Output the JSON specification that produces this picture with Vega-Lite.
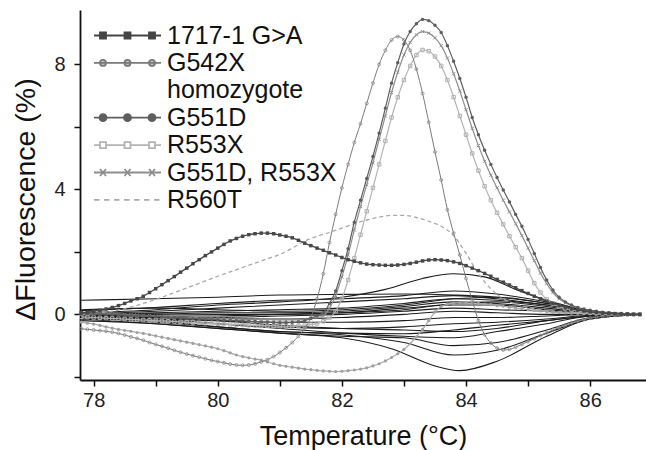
{
  "$schema": "https://vega.github.io/schema/vega-lite/v6.json",
  "width": 566,
  "height": 370,
  "autosize": {"type": "none"},
  "padding": {"left": 80, "top": 10, "right": 0, "bottom": 70},
  "background": "white",
  "config": {
    "view": {"stroke": null},
    "font": "Liberation Sans",
    "axis": {"grid": false, "domainColor": "#111", "domainWidth": 1.8, "tickColor": "#111", "tickWidth": 1.5, "tickSize": 6, "labelFont": "Liberation Sans", "labelFontSize": 20, "labelColor": "#222", "titleFont": "Liberation Sans", "titleFontSize": 27, "titleFontWeight": "normal", "titleColor": "#111"},
    "legend": {"padding": 0, "symbolSize": 100, "symbolStrokeWidth": 1.8, "labelFontSize": 25, "labelFont": "Liberation Sans", "labelColor": "#111", "labelOffset": 27, "rowPadding": 1.4, "labelLimit": 400, "symbolOpacity": 1}
  },
  "datasets": {
    "pk": [
      {"s":"1717-1 G>A","t":77.8,"v":0.05},{"s":"1717-1 G>A","t":77.9,"v":0.07},{"s":"1717-1 G>A","t":78.0,"v":0.1},{"s":"1717-1 G>A","t":78.1,"v":0.13},{"s":"1717-1 G>A","t":78.2,"v":0.17},{"s":"1717-1 G>A","t":78.3,"v":0.22},{"s":"1717-1 G>A","t":78.4,"v":0.28},{"s":"1717-1 G>A","t":78.5,"v":0.35},{"s":"1717-1 G>A","t":78.6,"v":0.43},{"s":"1717-1 G>A","t":78.7,"v":0.5},{"s":"1717-1 G>A","t":78.8,"v":0.58},{"s":"1717-1 G>A","t":78.9,"v":0.7},{"s":"1717-1 G>A","t":79.0,"v":0.82},{"s":"1717-1 G>A","t":79.1,"v":0.95},{"s":"1717-1 G>A","t":79.2,"v":1.08},{"s":"1717-1 G>A","t":79.3,"v":1.21},{"s":"1717-1 G>A","t":79.4,"v":1.35},{"s":"1717-1 G>A","t":79.5,"v":1.48},{"s":"1717-1 G>A","t":79.6,"v":1.62},{"s":"1717-1 G>A","t":79.7,"v":1.75},{"s":"1717-1 G>A","t":79.8,"v":1.88},{"s":"1717-1 G>A","t":79.9,"v":2.0},{"s":"1717-1 G>A","t":80.0,"v":2.12},{"s":"1717-1 G>A","t":80.1,"v":2.24},{"s":"1717-1 G>A","t":80.2,"v":2.35},{"s":"1717-1 G>A","t":80.3,"v":2.43},{"s":"1717-1 G>A","t":80.4,"v":2.5},{"s":"1717-1 G>A","t":80.5,"v":2.55},{"s":"1717-1 G>A","t":80.6,"v":2.58},{"s":"1717-1 G>A","t":80.7,"v":2.6},{"s":"1717-1 G>A","t":80.8,"v":2.6},{"s":"1717-1 G>A","t":80.9,"v":2.58},{"s":"1717-1 G>A","t":81.0,"v":2.54},{"s":"1717-1 G>A","t":81.1,"v":2.5},{"s":"1717-1 G>A","t":81.2,"v":2.45},{"s":"1717-1 G>A","t":81.3,"v":2.37},{"s":"1717-1 G>A","t":81.4,"v":2.28},{"s":"1717-1 G>A","t":81.5,"v":2.2},{"s":"1717-1 G>A","t":81.6,"v":2.12},{"s":"1717-1 G>A","t":81.7,"v":2.05},{"s":"1717-1 G>A","t":81.8,"v":1.97},{"s":"1717-1 G>A","t":81.9,"v":1.9},{"s":"1717-1 G>A","t":82.0,"v":1.82},{"s":"1717-1 G>A","t":82.1,"v":1.75},{"s":"1717-1 G>A","t":82.2,"v":1.7},{"s":"1717-1 G>A","t":82.3,"v":1.65},{"s":"1717-1 G>A","t":82.4,"v":1.61},{"s":"1717-1 G>A","t":82.5,"v":1.59},{"s":"1717-1 G>A","t":82.6,"v":1.58},{"s":"1717-1 G>A","t":82.7,"v":1.57},{"s":"1717-1 G>A","t":82.8,"v":1.57},{"s":"1717-1 G>A","t":82.9,"v":1.58},{"s":"1717-1 G>A","t":83.0,"v":1.6},{"s":"1717-1 G>A","t":83.1,"v":1.63},{"s":"1717-1 G>A","t":83.2,"v":1.67},{"s":"1717-1 G>A","t":83.3,"v":1.71},{"s":"1717-1 G>A","t":83.4,"v":1.74},{"s":"1717-1 G>A","t":83.5,"v":1.75},{"s":"1717-1 G>A","t":83.6,"v":1.74},{"s":"1717-1 G>A","t":83.7,"v":1.72},{"s":"1717-1 G>A","t":83.8,"v":1.68},{"s":"1717-1 G>A","t":83.9,"v":1.63},{"s":"1717-1 G>A","t":84.0,"v":1.56},{"s":"1717-1 G>A","t":84.1,"v":1.48},{"s":"1717-1 G>A","t":84.2,"v":1.4},{"s":"1717-1 G>A","t":84.3,"v":1.31},{"s":"1717-1 G>A","t":84.4,"v":1.22},{"s":"1717-1 G>A","t":84.5,"v":1.12},{"s":"1717-1 G>A","t":84.6,"v":1.03},{"s":"1717-1 G>A","t":84.7,"v":0.94},{"s":"1717-1 G>A","t":84.8,"v":0.85},{"s":"1717-1 G>A","t":84.9,"v":0.76},{"s":"1717-1 G>A","t":85.0,"v":0.67},{"s":"1717-1 G>A","t":85.1,"v":0.58},{"s":"1717-1 G>A","t":85.2,"v":0.5},{"s":"1717-1 G>A","t":85.3,"v":0.42},{"s":"1717-1 G>A","t":85.4,"v":0.35},{"s":"1717-1 G>A","t":85.5,"v":0.29},{"s":"1717-1 G>A","t":85.6,"v":0.23},{"s":"1717-1 G>A","t":85.7,"v":0.18},{"s":"1717-1 G>A","t":85.8,"v":0.14},{"s":"1717-1 G>A","t":85.9,"v":0.11},{"s":"1717-1 G>A","t":86.0,"v":0.08},{"s":"1717-1 G>A","t":86.1,"v":0.06},{"s":"1717-1 G>A","t":86.2,"v":0.04},{"s":"1717-1 G>A","t":86.3,"v":0.03},{"s":"1717-1 G>A","t":86.4,"v":0.02},{"s":"1717-1 G>A","t":86.5,"v":0.01},{"s":"1717-1 G>A","t":86.6,"v":0.01},{"s":"1717-1 G>A","t":86.7,"v":0.0},{"s":"1717-1 G>A","t":86.8,"v":0.0},

      {"s":"G542X","t":77.8,"v":-0.46},{"s":"G542X","t":77.9,"v":-0.48},{"s":"G542X","t":78.0,"v":-0.5},{"s":"G542X","t":78.1,"v":-0.52},{"s":"G542X","t":78.2,"v":-0.54},{"s":"G542X","t":78.3,"v":-0.57},{"s":"G542X","t":78.4,"v":-0.61},{"s":"G542X","t":78.5,"v":-0.66},{"s":"G542X","t":78.6,"v":-0.72},{"s":"G542X","t":78.7,"v":-0.77},{"s":"G542X","t":78.8,"v":-0.83},{"s":"G542X","t":78.9,"v":-0.9},{"s":"G542X","t":79.0,"v":-0.96},{"s":"G542X","t":79.1,"v":-1.02},{"s":"G542X","t":79.2,"v":-1.08},{"s":"G542X","t":79.3,"v":-1.15},{"s":"G542X","t":79.4,"v":-1.21},{"s":"G542X","t":79.5,"v":-1.27},{"s":"G542X","t":79.6,"v":-1.32},{"s":"G542X","t":79.7,"v":-1.37},{"s":"G542X","t":79.8,"v":-1.42},{"s":"G542X","t":79.9,"v":-1.47},{"s":"G542X","t":80.0,"v":-1.51},{"s":"G542X","t":80.1,"v":-1.55},{"s":"G542X","t":80.2,"v":-1.59},{"s":"G542X","t":80.3,"v":-1.62},{"s":"G542X","t":80.4,"v":-1.63},{"s":"G542X","t":80.5,"v":-1.62},{"s":"G542X","t":80.6,"v":-1.58},{"s":"G542X","t":80.7,"v":-1.52},{"s":"G542X","t":80.8,"v":-1.45},{"s":"G542X","t":80.9,"v":-1.35},{"s":"G542X","t":81.0,"v":-1.22},{"s":"G542X","t":81.1,"v":-1.07},{"s":"G542X","t":81.2,"v":-0.9},{"s":"G542X","t":81.3,"v":-0.7},{"s":"G542X","t":81.4,"v":-0.45},{"s":"G542X","t":81.5,"v":-0.1},{"s":"G542X","t":81.6,"v":0.5},{"s":"G542X","t":81.7,"v":1.3},{"s":"G542X","t":81.8,"v":2.3},{"s":"G542X","t":81.9,"v":3.2},{"s":"G542X","t":82.0,"v":4.05},{"s":"G542X","t":82.1,"v":4.8},{"s":"G542X","t":82.2,"v":5.5},{"s":"G542X","t":82.3,"v":6.1},{"s":"G542X","t":82.4,"v":6.75},{"s":"G542X","t":82.5,"v":7.4},{"s":"G542X","t":82.6,"v":8.0},{"s":"G542X","t":82.7,"v":8.45},{"s":"G542X","t":82.8,"v":8.78},{"s":"G542X","t":82.9,"v":8.89},{"s":"G542X","t":83.0,"v":8.78},{"s":"G542X","t":83.1,"v":8.45},{"s":"G542X","t":83.2,"v":7.85},{"s":"G542X","t":83.3,"v":7.07},{"s":"G542X","t":83.4,"v":6.15},{"s":"G542X","t":83.5,"v":5.2},{"s":"G542X","t":83.6,"v":4.3},{"s":"G542X","t":83.7,"v":3.35},{"s":"G542X","t":83.8,"v":2.6},{"s":"G542X","t":83.9,"v":1.9},{"s":"G542X","t":84.0,"v":1.15},{"s":"G542X","t":84.1,"v":0.45},{"s":"G542X","t":84.2,"v":-0.2},{"s":"G542X","t":84.3,"v":-0.65},{"s":"G542X","t":84.4,"v":-0.92},{"s":"G542X","t":84.5,"v":-1.08},{"s":"G542X","t":84.6,"v":-1.14},{"s":"G542X","t":84.7,"v":-1.12},{"s":"G542X","t":84.8,"v":-1.05},{"s":"G542X","t":84.9,"v":-0.96},{"s":"G542X","t":85.0,"v":-0.87},{"s":"G542X","t":85.1,"v":-0.78},{"s":"G542X","t":85.2,"v":-0.68},{"s":"G542X","t":85.3,"v":-0.59},{"s":"G542X","t":85.4,"v":-0.5},{"s":"G542X","t":85.5,"v":-0.42},{"s":"G542X","t":85.6,"v":-0.34},{"s":"G542X","t":85.7,"v":-0.27},{"s":"G542X","t":85.8,"v":-0.21},{"s":"G542X","t":85.9,"v":-0.16},{"s":"G542X","t":86.0,"v":-0.12},{"s":"G542X","t":86.1,"v":-0.09},{"s":"G542X","t":86.2,"v":-0.06},{"s":"G542X","t":86.3,"v":-0.04},{"s":"G542X","t":86.4,"v":-0.03},{"s":"G542X","t":86.5,"v":-0.02},{"s":"G542X","t":86.6,"v":-0.01},{"s":"G542X","t":86.7,"v":0.0},{"s":"G542X","t":86.8,"v":0.0},

      {"s":"G551D","t":77.8,"v":0.02},{"s":"G551D","t":77.9,"v":0.02},{"s":"G551D","t":78.0,"v":0.01},{"s":"G551D","t":78.1,"v":0.01},{"s":"G551D","t":78.2,"v":0.0},{"s":"G551D","t":78.3,"v":0.0},{"s":"G551D","t":78.4,"v":-0.01},{"s":"G551D","t":78.5,"v":-0.02},{"s":"G551D","t":78.6,"v":-0.03},{"s":"G551D","t":78.7,"v":-0.04},{"s":"G551D","t":78.8,"v":-0.05},{"s":"G551D","t":78.9,"v":-0.06},{"s":"G551D","t":79.0,"v":-0.07},{"s":"G551D","t":79.1,"v":-0.08},{"s":"G551D","t":79.2,"v":-0.09},{"s":"G551D","t":79.3,"v":-0.1},{"s":"G551D","t":79.4,"v":-0.11},{"s":"G551D","t":79.5,"v":-0.12},{"s":"G551D","t":79.6,"v":-0.13},{"s":"G551D","t":79.7,"v":-0.14},{"s":"G551D","t":79.8,"v":-0.15},{"s":"G551D","t":79.9,"v":-0.16},{"s":"G551D","t":80.0,"v":-0.17},{"s":"G551D","t":80.1,"v":-0.18},{"s":"G551D","t":80.2,"v":-0.19},{"s":"G551D","t":80.3,"v":-0.2},{"s":"G551D","t":80.4,"v":-0.21},{"s":"G551D","t":80.5,"v":-0.22},{"s":"G551D","t":80.6,"v":-0.23},{"s":"G551D","t":80.7,"v":-0.24},{"s":"G551D","t":80.8,"v":-0.25},{"s":"G551D","t":80.9,"v":-0.26},{"s":"G551D","t":81.0,"v":-0.27},{"s":"G551D","t":81.1,"v":-0.27},{"s":"G551D","t":81.2,"v":-0.26},{"s":"G551D","t":81.3,"v":-0.24},{"s":"G551D","t":81.4,"v":-0.2},{"s":"G551D","t":81.5,"v":-0.13},{"s":"G551D","t":81.6,"v":-0.04},{"s":"G551D","t":81.7,"v":0.05},{"s":"G551D","t":81.8,"v":0.35},{"s":"G551D","t":81.9,"v":0.75},{"s":"G551D","t":82.0,"v":1.4},{"s":"G551D","t":82.1,"v":2.1},{"s":"G551D","t":82.2,"v":2.95},{"s":"G551D","t":82.3,"v":3.65},{"s":"G551D","t":82.4,"v":4.35},{"s":"G551D","t":82.5,"v":5.05},{"s":"G551D","t":82.6,"v":5.8},{"s":"G551D","t":82.7,"v":6.6},{"s":"G551D","t":82.8,"v":7.4},{"s":"G551D","t":82.9,"v":8.05},{"s":"G551D","t":83.0,"v":8.65},{"s":"G551D","t":83.1,"v":9.05},{"s":"G551D","t":83.2,"v":9.3},{"s":"G551D","t":83.3,"v":9.44},{"s":"G551D","t":83.4,"v":9.4},{"s":"G551D","t":83.5,"v":9.25},{"s":"G551D","t":83.6,"v":9.02},{"s":"G551D","t":83.7,"v":8.6},{"s":"G551D","t":83.8,"v":8.1},{"s":"G551D","t":83.9,"v":7.55},{"s":"G551D","t":84.0,"v":6.95},{"s":"G551D","t":84.1,"v":6.3},{"s":"G551D","t":84.2,"v":5.75},{"s":"G551D","t":84.3,"v":5.25},{"s":"G551D","t":84.4,"v":4.8},{"s":"G551D","t":84.5,"v":4.38},{"s":"G551D","t":84.6,"v":3.98},{"s":"G551D","t":84.7,"v":3.6},{"s":"G551D","t":84.8,"v":3.2},{"s":"G551D","t":84.9,"v":2.82},{"s":"G551D","t":85.0,"v":2.4},{"s":"G551D","t":85.1,"v":1.95},{"s":"G551D","t":85.2,"v":1.5},{"s":"G551D","t":85.3,"v":1.1},{"s":"G551D","t":85.4,"v":0.78},{"s":"G551D","t":85.5,"v":0.55},{"s":"G551D","t":85.6,"v":0.4},{"s":"G551D","t":85.7,"v":0.3},{"s":"G551D","t":85.8,"v":0.22},{"s":"G551D","t":85.9,"v":0.17},{"s":"G551D","t":86.0,"v":0.13},{"s":"G551D","t":86.1,"v":0.1},{"s":"G551D","t":86.2,"v":0.07},{"s":"G551D","t":86.3,"v":0.05},{"s":"G551D","t":86.4,"v":0.03},{"s":"G551D","t":86.5,"v":0.02},{"s":"G551D","t":86.6,"v":0.01},{"s":"G551D","t":86.7,"v":0.0},{"s":"G551D","t":86.8,"v":0.0},

      {"s":"R553X","t":77.8,"v":-0.08},{"s":"R553X","t":77.9,"v":-0.09},{"s":"R553X","t":78.0,"v":-0.1},{"s":"R553X","t":78.1,"v":-0.11},{"s":"R553X","t":78.2,"v":-0.12},{"s":"R553X","t":78.3,"v":-0.13},{"s":"R553X","t":78.4,"v":-0.14},{"s":"R553X","t":78.5,"v":-0.15},{"s":"R553X","t":78.6,"v":-0.16},{"s":"R553X","t":78.7,"v":-0.17},{"s":"R553X","t":78.8,"v":-0.18},{"s":"R553X","t":78.9,"v":-0.19},{"s":"R553X","t":79.0,"v":-0.2},{"s":"R553X","t":79.1,"v":-0.21},{"s":"R553X","t":79.2,"v":-0.22},{"s":"R553X","t":79.3,"v":-0.23},{"s":"R553X","t":79.4,"v":-0.24},{"s":"R553X","t":79.5,"v":-0.25},{"s":"R553X","t":79.6,"v":-0.26},{"s":"R553X","t":79.7,"v":-0.27},{"s":"R553X","t":79.8,"v":-0.28},{"s":"R553X","t":79.9,"v":-0.29},{"s":"R553X","t":80.0,"v":-0.3},{"s":"R553X","t":80.1,"v":-0.31},{"s":"R553X","t":80.2,"v":-0.32},{"s":"R553X","t":80.3,"v":-0.33},{"s":"R553X","t":80.4,"v":-0.34},{"s":"R553X","t":80.5,"v":-0.35},{"s":"R553X","t":80.6,"v":-0.36},{"s":"R553X","t":80.7,"v":-0.36},{"s":"R553X","t":80.8,"v":-0.37},{"s":"R553X","t":80.9,"v":-0.37},{"s":"R553X","t":81.0,"v":-0.38},{"s":"R553X","t":81.1,"v":-0.38},{"s":"R553X","t":81.2,"v":-0.38},{"s":"R553X","t":81.3,"v":-0.37},{"s":"R553X","t":81.4,"v":-0.36},{"s":"R553X","t":81.5,"v":-0.33},{"s":"R553X","t":81.6,"v":-0.29},{"s":"R553X","t":81.7,"v":-0.22},{"s":"R553X","t":81.8,"v":-0.1},{"s":"R553X","t":81.9,"v":0.1},{"s":"R553X","t":82.0,"v":0.5},{"s":"R553X","t":82.1,"v":1.1},{"s":"R553X","t":82.2,"v":1.8},{"s":"R553X","t":82.3,"v":2.55},{"s":"R553X","t":82.4,"v":3.3},{"s":"R553X","t":82.5,"v":4.05},{"s":"R553X","t":82.6,"v":4.8},{"s":"R553X","t":82.7,"v":5.55},{"s":"R553X","t":82.8,"v":6.3},{"s":"R553X","t":82.9,"v":6.95},{"s":"R553X","t":83.0,"v":7.5},{"s":"R553X","t":83.1,"v":7.95},{"s":"R553X","t":83.2,"v":8.3},{"s":"R553X","t":83.3,"v":8.46},{"s":"R553X","t":83.4,"v":8.42},{"s":"R553X","t":83.5,"v":8.25},{"s":"R553X","t":83.6,"v":7.95},{"s":"R553X","t":83.7,"v":7.5},{"s":"R553X","t":83.8,"v":6.95},{"s":"R553X","t":83.9,"v":6.35},{"s":"R553X","t":84.0,"v":5.75},{"s":"R553X","t":84.1,"v":5.15},{"s":"R553X","t":84.2,"v":4.6},{"s":"R553X","t":84.3,"v":4.1},{"s":"R553X","t":84.4,"v":3.65},{"s":"R553X","t":84.5,"v":3.25},{"s":"R553X","t":84.6,"v":2.88},{"s":"R553X","t":84.7,"v":2.5},{"s":"R553X","t":84.8,"v":2.15},{"s":"R553X","t":84.9,"v":1.8},{"s":"R553X","t":85.0,"v":1.4},{"s":"R553X","t":85.1,"v":1.0},{"s":"R553X","t":85.2,"v":0.7},{"s":"R553X","t":85.3,"v":0.48},{"s":"R553X","t":85.4,"v":0.34},{"s":"R553X","t":85.5,"v":0.25},{"s":"R553X","t":85.6,"v":0.19},{"s":"R553X","t":85.7,"v":0.14},{"s":"R553X","t":85.8,"v":0.1},{"s":"R553X","t":85.9,"v":0.08},{"s":"R553X","t":86.0,"v":0.06},{"s":"R553X","t":86.1,"v":0.04},{"s":"R553X","t":86.2,"v":0.03},{"s":"R553X","t":86.3,"v":0.02},{"s":"R553X","t":86.4,"v":0.01},{"s":"R553X","t":86.5,"v":0.01},{"s":"R553X","t":86.6,"v":0.0},{"s":"R553X","t":86.7,"v":0.0},{"s":"R553X","t":86.8,"v":0.0},

      {"s":"G551D, R553X","t":77.8,"v":0.05},{"s":"G551D, R553X","t":77.9,"v":0.05},{"s":"G551D, R553X","t":78.0,"v":0.04},{"s":"G551D, R553X","t":78.1,"v":0.04},{"s":"G551D, R553X","t":78.2,"v":0.03},{"s":"G551D, R553X","t":78.3,"v":0.02},{"s":"G551D, R553X","t":78.4,"v":0.01},{"s":"G551D, R553X","t":78.5,"v":0.0},{"s":"G551D, R553X","t":78.6,"v":-0.01},{"s":"G551D, R553X","t":78.7,"v":-0.02},{"s":"G551D, R553X","t":78.8,"v":-0.03},{"s":"G551D, R553X","t":78.9,"v":-0.04},{"s":"G551D, R553X","t":79.0,"v":-0.05},{"s":"G551D, R553X","t":79.1,"v":-0.06},{"s":"G551D, R553X","t":79.2,"v":-0.07},{"s":"G551D, R553X","t":79.3,"v":-0.08},{"s":"G551D, R553X","t":79.4,"v":-0.09},{"s":"G551D, R553X","t":79.5,"v":-0.1},{"s":"G551D, R553X","t":79.6,"v":-0.1},{"s":"G551D, R553X","t":79.7,"v":-0.11},{"s":"G551D, R553X","t":79.8,"v":-0.12},{"s":"G551D, R553X","t":79.9,"v":-0.12},{"s":"G551D, R553X","t":80.0,"v":-0.13},{"s":"G551D, R553X","t":80.1,"v":-0.13},{"s":"G551D, R553X","t":80.2,"v":-0.14},{"s":"G551D, R553X","t":80.3,"v":-0.14},{"s":"G551D, R553X","t":80.4,"v":-0.15},{"s":"G551D, R553X","t":80.5,"v":-0.15},{"s":"G551D, R553X","t":80.6,"v":-0.16},{"s":"G551D, R553X","t":80.7,"v":-0.16},{"s":"G551D, R553X","t":80.8,"v":-0.17},{"s":"G551D, R553X","t":80.9,"v":-0.17},{"s":"G551D, R553X","t":81.0,"v":-0.18},{"s":"G551D, R553X","t":81.1,"v":-0.18},{"s":"G551D, R553X","t":81.2,"v":-0.18},{"s":"G551D, R553X","t":81.3,"v":-0.17},{"s":"G551D, R553X","t":81.4,"v":-0.16},{"s":"G551D, R553X","t":81.5,"v":-0.14},{"s":"G551D, R553X","t":81.6,"v":-0.1},{"s":"G551D, R553X","t":81.7,"v":-0.05},{"s":"G551D, R553X","t":81.8,"v":0.2},{"s":"G551D, R553X","t":81.9,"v":0.6},{"s":"G551D, R553X","t":82.0,"v":1.2},{"s":"G551D, R553X","t":82.1,"v":1.9},{"s":"G551D, R553X","t":82.2,"v":2.7},{"s":"G551D, R553X","t":82.3,"v":3.45},{"s":"G551D, R553X","t":82.4,"v":4.15},{"s":"G551D, R553X","t":82.5,"v":4.85},{"s":"G551D, R553X","t":82.6,"v":5.6},{"s":"G551D, R553X","t":82.7,"v":6.35},{"s":"G551D, R553X","t":82.8,"v":7.1},{"s":"G551D, R553X","t":82.9,"v":7.75},{"s":"G551D, R553X","t":83.0,"v":8.3},{"s":"G551D, R553X","t":83.1,"v":8.7},{"s":"G551D, R553X","t":83.2,"v":8.95},{"s":"G551D, R553X","t":83.3,"v":9.05},{"s":"G551D, R553X","t":83.4,"v":9.0},{"s":"G551D, R553X","t":83.5,"v":8.85},{"s":"G551D, R553X","t":83.6,"v":8.6},{"s":"G551D, R553X","t":83.7,"v":8.2},{"s":"G551D, R553X","t":83.8,"v":7.7},{"s":"G551D, R553X","t":83.9,"v":7.15},{"s":"G551D, R553X","t":84.0,"v":6.55},{"s":"G551D, R553X","t":84.1,"v":5.95},{"s":"G551D, R553X","t":84.2,"v":5.4},{"s":"G551D, R553X","t":84.3,"v":4.9},{"s":"G551D, R553X","t":84.4,"v":4.45},{"s":"G551D, R553X","t":84.5,"v":4.05},{"s":"G551D, R553X","t":84.6,"v":3.65},{"s":"G551D, R553X","t":84.7,"v":3.28},{"s":"G551D, R553X","t":84.8,"v":2.9},{"s":"G551D, R553X","t":84.9,"v":2.52},{"s":"G551D, R553X","t":85.0,"v":2.12},{"s":"G551D, R553X","t":85.1,"v":1.72},{"s":"G551D, R553X","t":85.2,"v":1.32},{"s":"G551D, R553X","t":85.3,"v":0.98},{"s":"G551D, R553X","t":85.4,"v":0.7},{"s":"G551D, R553X","t":85.5,"v":0.5},{"s":"G551D, R553X","t":85.6,"v":0.37},{"s":"G551D, R553X","t":85.7,"v":0.28},{"s":"G551D, R553X","t":85.8,"v":0.21},{"s":"G551D, R553X","t":85.9,"v":0.16},{"s":"G551D, R553X","t":86.0,"v":0.12},{"s":"G551D, R553X","t":86.1,"v":0.09},{"s":"G551D, R553X","t":86.2,"v":0.06},{"s":"G551D, R553X","t":86.3,"v":0.04},{"s":"G551D, R553X","t":86.4,"v":0.03},{"s":"G551D, R553X","t":86.5,"v":0.02},{"s":"G551D, R553X","t":86.6,"v":0.01},{"s":"G551D, R553X","t":86.7,"v":0.0},{"s":"G551D, R553X","t":86.8,"v":0.0},

      {"s":"R560T","t":77.8,"v":0.0},{"s":"R560T","t":78.0,"v":0.02},{"s":"R560T","t":78.2,"v":0.07},{"s":"R560T","t":78.4,"v":0.14},{"s":"R560T","t":78.6,"v":0.23},{"s":"R560T","t":78.8,"v":0.35},{"s":"R560T","t":79.0,"v":0.48},{"s":"R560T","t":79.2,"v":0.62},{"s":"R560T","t":79.4,"v":0.77},{"s":"R560T","t":79.6,"v":0.92},{"s":"R560T","t":79.8,"v":1.07},{"s":"R560T","t":80.0,"v":1.22},{"s":"R560T","t":80.2,"v":1.36},{"s":"R560T","t":80.4,"v":1.5},{"s":"R560T","t":80.6,"v":1.64},{"s":"R560T","t":80.8,"v":1.78},{"s":"R560T","t":81.0,"v":1.92},{"s":"R560T","t":81.2,"v":2.12},{"s":"R560T","t":81.4,"v":2.35},{"s":"R560T","t":81.6,"v":2.5},{"s":"R560T","t":81.8,"v":2.62},{"s":"R560T","t":82.0,"v":2.76},{"s":"R560T","t":82.2,"v":2.9},{"s":"R560T","t":82.4,"v":3.02},{"s":"R560T","t":82.6,"v":3.11},{"s":"R560T","t":82.8,"v":3.17},{"s":"R560T","t":83.0,"v":3.17},{"s":"R560T","t":83.2,"v":3.1},{"s":"R560T","t":83.4,"v":2.98},{"s":"R560T","t":83.6,"v":2.82},{"s":"R560T","t":83.8,"v":2.52},{"s":"R560T","t":84.0,"v":1.95},{"s":"R560T","t":84.2,"v":1.3},{"s":"R560T","t":84.4,"v":0.82},{"s":"R560T","t":84.6,"v":0.5},{"s":"R560T","t":84.8,"v":0.33},{"s":"R560T","t":85.0,"v":0.22},{"s":"R560T","t":85.2,"v":0.15},{"s":"R560T","t":85.4,"v":0.1},{"s":"R560T","t":85.6,"v":0.07},{"s":"R560T","t":85.8,"v":0.05},{"s":"R560T","t":86.0,"v":0.03},{"s":"R560T","t":86.2,"v":0.02},{"s":"R560T","t":86.4,"v":0.01},{"s":"R560T","t":86.6,"v":0.0},{"s":"R560T","t":86.8,"v":0.0},

      {"s":"other","t":77.8,"v":-0.25},{"s":"other","t":77.9,"v":-0.28},{"s":"other","t":78.0,"v":-0.31},{"s":"other","t":78.1,"v":-0.35},{"s":"other","t":78.2,"v":-0.4},{"s":"other","t":78.3,"v":-0.44},{"s":"other","t":78.4,"v":-0.48},{"s":"other","t":78.5,"v":-0.51},{"s":"other","t":78.6,"v":-0.54},{"s":"other","t":78.7,"v":-0.58},{"s":"other","t":78.8,"v":-0.61},{"s":"other","t":78.9,"v":-0.65},{"s":"other","t":79.0,"v":-0.69},{"s":"other","t":79.1,"v":-0.73},{"s":"other","t":79.2,"v":-0.77},{"s":"other","t":79.3,"v":-0.81},{"s":"other","t":79.4,"v":-0.85},{"s":"other","t":79.5,"v":-0.89},{"s":"other","t":79.6,"v":-0.93},{"s":"other","t":79.7,"v":-0.97},{"s":"other","t":79.8,"v":-1.01},{"s":"other","t":79.9,"v":-1.05},{"s":"other","t":80.0,"v":-1.1},{"s":"other","t":80.1,"v":-1.16},{"s":"other","t":80.2,"v":-1.23},{"s":"other","t":80.3,"v":-1.3},{"s":"other","t":80.4,"v":-1.35},{"s":"other","t":80.5,"v":-1.39},{"s":"other","t":80.6,"v":-1.43},{"s":"other","t":80.7,"v":-1.46},{"s":"other","t":80.8,"v":-1.52},{"s":"other","t":80.9,"v":-1.58},{"s":"other","t":81.0,"v":-1.63},{"s":"other","t":81.1,"v":-1.66},{"s":"other","t":81.2,"v":-1.69},{"s":"other","t":81.3,"v":-1.72},{"s":"other","t":81.4,"v":-1.75},{"s":"other","t":81.5,"v":-1.77},{"s":"other","t":81.6,"v":-1.79},{"s":"other","t":81.7,"v":-1.81},{"s":"other","t":81.8,"v":-1.82},{"s":"other","t":81.9,"v":-1.83},{"s":"other","t":82.0,"v":-1.82},{"s":"other","t":82.1,"v":-1.8},{"s":"other","t":82.2,"v":-1.78},{"s":"other","t":82.3,"v":-1.75},{"s":"other","t":82.4,"v":-1.71},{"s":"other","t":82.5,"v":-1.65},{"s":"other","t":82.6,"v":-1.58},{"s":"other","t":82.7,"v":-1.49},{"s":"other","t":82.8,"v":-1.38},{"s":"other","t":82.9,"v":-1.26},{"s":"other","t":83.0,"v":-1.12},{"s":"other","t":83.1,"v":-0.94},{"s":"other","t":83.2,"v":-0.72},{"s":"other","t":83.3,"v":-0.48},{"s":"other","t":83.4,"v":-0.2},{"s":"other","t":83.5,"v":0.08},{"s":"other","t":83.6,"v":0.25},{"s":"other","t":83.7,"v":0.33},{"s":"other","t":83.8,"v":0.36},{"s":"other","t":83.9,"v":0.37},{"s":"other","t":84.0,"v":0.37},{"s":"other","t":84.1,"v":0.36},{"s":"other","t":84.2,"v":0.35},{"s":"other","t":84.3,"v":0.33},{"s":"other","t":84.4,"v":0.31},{"s":"other","t":84.5,"v":0.28},{"s":"other","t":84.6,"v":0.26},{"s":"other","t":84.7,"v":0.23},{"s":"other","t":84.8,"v":0.2},{"s":"other","t":84.9,"v":0.18},{"s":"other","t":85.0,"v":0.15},{"s":"other","t":85.1,"v":0.13},{"s":"other","t":85.2,"v":0.11},{"s":"other","t":85.3,"v":0.09},{"s":"other","t":85.4,"v":0.07},{"s":"other","t":85.5,"v":0.06},{"s":"other","t":85.6,"v":0.05},{"s":"other","t":85.7,"v":0.04},{"s":"other","t":85.8,"v":0.03},{"s":"other","t":85.9,"v":0.02},{"s":"other","t":86.0,"v":0.02},{"s":"other","t":86.1,"v":0.01},{"s":"other","t":86.2,"v":0.01},{"s":"other","t":86.3,"v":0.01},{"s":"other","t":86.4,"v":0.0},{"s":"other","t":86.5,"v":0.0},{"s":"other","t":86.6,"v":0.0},{"s":"other","t":86.7,"v":0.0},{"s":"other","t":86.8,"v":0.0}
    ],
    "bg": [
      {"id":1,"t":77.8,"v":0.45},{"id":1,"t":79,"v":0.5},{"id":1,"t":80,"v":0.55},{"id":1,"t":81,"v":0.62},{"id":1,"t":82,"v":0.64},{"id":1,"t":83,"v":0.65},{"id":1,"t":83.8,"v":0.62},{"id":1,"t":84.5,"v":0.55},{"id":1,"t":85.3,"v":0.35},{"id":1,"t":86,"v":0.1},{"id":1,"t":86.8,"v":0},
      {"id":2,"t":77.8,"v":0.05},{"id":2,"t":79,"v":0.15},{"id":2,"t":80,"v":0.3},{"id":2,"t":81,"v":0.4},{"id":2,"t":82,"v":0.55},{"id":2,"t":82.7,"v":0.8},{"id":2,"t":83.3,"v":1.15},{"id":2,"t":83.8,"v":1.3},{"id":2,"t":84.3,"v":1.2},{"id":2,"t":84.8,"v":0.8},{"id":2,"t":85.3,"v":0.45},{"id":2,"t":86,"v":0.12},{"id":2,"t":86.8,"v":0},
      {"id":3,"t":77.8,"v":0.12},{"id":3,"t":79,"v":0.22},{"id":3,"t":80,"v":0.35},{"id":3,"t":81,"v":0.45},{"id":3,"t":82,"v":0.5},{"id":3,"t":83,"v":0.6},{"id":3,"t":83.8,"v":0.75},{"id":3,"t":84.5,"v":0.65},{"id":3,"t":85.3,"v":0.4},{"id":3,"t":86,"v":0.1},{"id":3,"t":86.8,"v":0},
      {"id":4,"t":77.8,"v":0.0},{"id":4,"t":79,"v":0.05},{"id":4,"t":80,"v":0.1},{"id":4,"t":81,"v":0.15},{"id":4,"t":82,"v":0.2},{"id":4,"t":83,"v":0.35},{"id":4,"t":83.8,"v":0.5},{"id":4,"t":84.5,"v":0.45},{"id":4,"t":85.3,"v":0.3},{"id":4,"t":86,"v":0.08},{"id":4,"t":86.8,"v":0},
      {"id":5,"t":77.8,"v":-0.05},{"id":5,"t":79,"v":0.0},{"id":5,"t":80,"v":0.05},{"id":5,"t":81,"v":0.05},{"id":5,"t":82,"v":0.1},{"id":5,"t":83,"v":0.25},{"id":5,"t":83.8,"v":0.4},{"id":5,"t":84.5,"v":0.35},{"id":5,"t":85.3,"v":0.2},{"id":5,"t":86,"v":0.05},{"id":5,"t":86.8,"v":0},
      {"id":6,"t":77.8,"v":0.05},{"id":6,"t":79,"v":0.02},{"id":6,"t":80,"v":0.0},{"id":6,"t":81,"v":0.0},{"id":6,"t":82,"v":0.05},{"id":6,"t":83,"v":0.2},{"id":6,"t":83.8,"v":0.3},{"id":6,"t":84.5,"v":0.3},{"id":6,"t":85.3,"v":0.15},{"id":6,"t":86,"v":0.05},{"id":6,"t":86.8,"v":0},
      {"id":7,"t":77.8,"v":-0.1},{"id":7,"t":79,"v":-0.1},{"id":7,"t":80,"v":-0.1},{"id":7,"t":81,"v":-0.05},{"id":7,"t":82,"v":0.0},{"id":7,"t":83,"v":0.1},{"id":7,"t":83.8,"v":0.2},{"id":7,"t":84.5,"v":0.15},{"id":7,"t":85.3,"v":0.1},{"id":7,"t":86,"v":0.03},{"id":7,"t":86.8,"v":0},
      {"id":8,"t":77.8,"v":0.0},{"id":8,"t":79,"v":-0.05},{"id":8,"t":80,"v":-0.12},{"id":8,"t":81,"v":-0.15},{"id":8,"t":82,"v":-0.1},{"id":8,"t":83,"v":0.0},{"id":8,"t":83.8,"v":0.1},{"id":8,"t":84.5,"v":0.05},{"id":8,"t":85.3,"v":0.0},{"id":8,"t":86,"v":0},{"id":8,"t":86.8,"v":0},
      {"id":9,"t":77.8,"v":-0.1},{"id":9,"t":79,"v":-0.15},{"id":9,"t":80,"v":-0.2},{"id":9,"t":81,"v":-0.25},{"id":9,"t":82,"v":-0.25},{"id":9,"t":83,"v":-0.2},{"id":9,"t":83.8,"v":-0.1},{"id":9,"t":84.5,"v":-0.1},{"id":9,"t":85.3,"v":-0.05},{"id":9,"t":86,"v":0},{"id":9,"t":86.8,"v":0},
      {"id":10,"t":77.8,"v":-0.15},{"id":10,"t":79,"v":-0.2},{"id":10,"t":80,"v":-0.3},{"id":10,"t":81,"v":-0.4},{"id":10,"t":82,"v":-0.45},{"id":10,"t":83,"v":-0.4},{"id":10,"t":83.8,"v":-0.3},{"id":10,"t":84.5,"v":-0.25},{"id":10,"t":85.3,"v":-0.15},{"id":10,"t":86,"v":-0.03},{"id":10,"t":86.8,"v":0},
      {"id":11,"t":77.8,"v":-0.05},{"id":11,"t":79,"v":-0.15},{"id":11,"t":80,"v":-0.3},{"id":11,"t":81,"v":-0.45},{"id":11,"t":82,"v":-0.6},{"id":11,"t":83,"v":-0.7},{"id":11,"t":83.8,"v":-0.75},{"id":11,"t":84.5,"v":-0.55},{"id":11,"t":85.3,"v":-0.3},{"id":11,"t":86,"v":-0.05},{"id":11,"t":86.8,"v":0},
      {"id":12,"t":77.8,"v":-0.2},{"id":12,"t":79,"v":-0.3},{"id":12,"t":80,"v":-0.45},{"id":12,"t":81,"v":-0.6},{"id":12,"t":82,"v":-0.7},{"id":12,"t":83,"v":-0.75},{"id":12,"t":83.8,"v":-1.0},{"id":12,"t":84.5,"v":-0.9},{"id":12,"t":85.3,"v":-0.5},{"id":12,"t":86,"v":-0.1},{"id":12,"t":86.8,"v":0},
      {"id":13,"t":77.8,"v":-0.1},{"id":13,"t":79,"v":-0.25},{"id":13,"t":80,"v":-0.4},{"id":13,"t":81,"v":-0.55},{"id":13,"t":82,"v":-0.65},{"id":13,"t":83,"v":-0.9},{"id":13,"t":83.8,"v":-1.3},{"id":13,"t":84.5,"v":-1.15},{"id":13,"t":85.3,"v":-0.6},{"id":13,"t":86,"v":-0.15},{"id":13,"t":86.8,"v":0},
      {"id":14,"t":77.8,"v":-0.15},{"id":14,"t":79,"v":-0.3},{"id":14,"t":80,"v":-0.45},{"id":14,"t":81,"v":-0.6},{"id":14,"t":82,"v":-0.75},{"id":14,"t":82.8,"v":-1.1},{"id":14,"t":83.5,"v":-1.65},{"id":14,"t":83.9,"v":-1.8},{"id":14,"t":84.5,"v":-1.5},{"id":14,"t":85.3,"v":-0.7},{"id":14,"t":86,"v":-0.15},{"id":14,"t":86.8,"v":0},
      {"id":15,"t":77.8,"v":0.15},{"id":15,"t":79,"v":0.2},{"id":15,"t":80,"v":0.15},{"id":15,"t":81,"v":0.1},{"id":15,"t":82,"v":0.15},{"id":15,"t":83,"v":0.3},{"id":15,"t":83.8,"v":0.5},{"id":15,"t":84.5,"v":0.55},{"id":15,"t":85.3,"v":0.35},{"id":15,"t":86,"v":0.1},{"id":15,"t":86.8,"v":0},
      {"id":16,"t":77.8,"v":0.0},{"id":16,"t":79,"v":0.1},{"id":16,"t":80,"v":0.2},{"id":16,"t":81,"v":0.3},{"id":16,"t":82,"v":0.4},{"id":16,"t":83,"v":0.5},{"id":16,"t":83.8,"v":0.6},{"id":16,"t":84.5,"v":0.5},{"id":16,"t":85.3,"v":0.3},{"id":16,"t":86,"v":0.1},{"id":16,"t":86.8,"v":0},
      {"id":17,"t":77.8,"v":-0.05},{"id":17,"t":79,"v":-0.1},{"id":17,"t":80,"v":-0.2},{"id":17,"t":81,"v":-0.35},{"id":17,"t":82,"v":-0.45},{"id":17,"t":83,"v":-0.5},{"id":17,"t":83.8,"v":-0.55},{"id":17,"t":84.5,"v":-0.45},{"id":17,"t":85.3,"v":-0.2},{"id":17,"t":86,"v":-0.05},{"id":17,"t":86.8,"v":0},
      {"id":18,"t":77.8,"v":0.0},{"id":18,"t":79,"v":-0.05},{"id":18,"t":80,"v":-0.05},{"id":18,"t":81,"v":0.0},{"id":18,"t":82,"v":0.05},{"id":18,"t":83,"v":0.15},{"id":18,"t":83.8,"v":0.35},{"id":18,"t":84.5,"v":0.4},{"id":18,"t":85.3,"v":0.25},{"id":18,"t":86,"v":0.05},{"id":18,"t":86.8,"v":0},
      {"id":19,"t":77.8,"v":-0.05},{"id":19,"t":79,"v":-0.2},{"id":19,"t":80,"v":-0.4},{"id":19,"t":81,"v":-0.55},{"id":19,"t":82,"v":-0.6},{"id":19,"t":83,"v":-0.62},{"id":19,"t":83.8,"v":-0.5},{"id":19,"t":84.5,"v":-0.35},{"id":19,"t":85.3,"v":-0.2},{"id":19,"t":86,"v":-0.05},{"id":19,"t":86.8,"v":0}
    ],
    "leg": [
      {"s":"1717-1 G>A"},{"s":"G542X"},{"s":"homozygote"},{"s":"G551D"},{"s":"R553X"},{"s":"G551D, R553X"},{"s":"R560T"}
    ]
  },
  "encoding": {
    "x": {"field": "t", "type": "quantitative", "scale": {"domain": [77.78, 86.9], "nice": false, "zero": false},
      "axis": {"title": "Temperature (°C)", "values": [78,79,80,81,82,83,84,85,86], "labelExpr": "datum.value % 2 == 0 ? datum.label : ''", "labelPadding": 4, "titleBaseline": "middle", "titleY": 56}},
    "y": {"field": "v", "type": "quantitative", "scale": {"domain": [-2.1, 9.74], "nice": false, "zero": false},
      "axis": {"title": "ΔFluorescence (%)", "titleFontSize": 28.5, "values": [-2,0,2,4,6,8], "labelExpr": "datum.value % 4 == 0 ? datum.label : ''", "labelPadding": 9, "titleBaseline": "middle", "titleX": -55, "titleY": 189}}
  },
  "layer": [
    {"data": {"name": "bg"}, "mark": {"type": "line", "interpolate": "monotone", "color": "#1c1c1c", "strokeWidth": 1.1}, "encoding": {"detail": {"field": "id", "type": "nominal"}}},
    {"data": {"name": "pk"}, "transform": [{"filter": "datum.s == 'R560T'"}], "mark": {"type": "line", "interpolate": "monotone", "color": "#a8a8a8", "strokeWidth": 1.3, "strokeDash": [4, 3]}},
    {"data": {"name": "pk"}, "transform": [{"filter": "datum.s == 'other'"}], "mark": {"type": "line", "interpolate": "monotone", "color": "#aaaaaa", "strokeWidth": 1.2, "point": {"shape": "circle", "size": 10, "filled": true, "color": "#a0a0a0"}}},
    {"data": {"name": "pk"}, "transform": [{"filter": "datum.s == 'R553X'"}], "mark": {"type": "line", "interpolate": "monotone", "color": "#b4b4b4", "strokeWidth": 1.2, "point": {"shape": "square", "size": 12, "filled": false, "color": "#b0b0b0", "strokeWidth": 1}}},
    {"data": {"name": "pk"}, "transform": [{"filter": "datum.s == 'G542X'"}], "mark": {"type": "line", "interpolate": "monotone", "color": "#7c7c7c", "strokeWidth": 1, "point": {"shape": "circle", "size": 9, "filled": false, "color": "#8a8a8a", "strokeWidth": 0.8}}},
    {"data": {"name": "pk"}, "transform": [{"filter": "datum.s == 'G551D, R553X'"}], "mark": {"type": "line", "interpolate": "monotone", "color": "#8e8e8e", "strokeWidth": 1.2, "point": {"shape": "M-1,-1L1,1M-1,1L1,-1", "size": 10, "filled": false, "color": "#8e8e8e", "strokeWidth": 1}}},
    {"data": {"name": "pk"}, "transform": [{"filter": "datum.s == 'G551D'"}], "mark": {"type": "line", "interpolate": "monotone", "color": "#5e5e5e", "strokeWidth": 1.2, "point": {"shape": "circle", "size": 12, "filled": true, "color": "#5e5e5e"}}},
    {"data": {"name": "pk"}, "transform": [{"filter": "datum.s == '1717-1 G>A'"}], "mark": {"type": "line", "interpolate": "monotone", "color": "#474747", "strokeWidth": 1.3, "point": {"shape": "square", "size": 12, "filled": true, "color": "#474747"}}},
    {"data": {"name": "leg"}, "transform": [{"filter": "datum.s == 'none'"}], "mark": {"type": "point", "size": 100, "strokeWidth": 1.8},
      "encoding": {
        "x": {"datum": 80}, "y": {"datum": 0},
        "stroke": {"field": "s", "type": "nominal", "scale": {"domain": ["1717-1 G>A","G542X","homozygote","G551D","R553X","G551D, R553X","R560T"], "range": ["#454545","#7a7a7a","rgba(0,0,0,0)","#5e5e5e","#b4b4b4","#8e8e8e","#aaaaaa"]},
          "legend": {"title": null, "orient": "none", "legendX": 35, "legendY": 13, "labelFontSize": 25, "labelColor": "#111"}},
        "fill": {"field": "s", "type": "nominal", "scale": {"domain": ["1717-1 G>A","G542X","homozygote","G551D","R553X","G551D, R553X","R560T"], "range": ["#454545","#c4c4c4","rgba(0,0,0,0)","#5e5e5e","#ffffff","#8e8e8e","rgba(0,0,0,0)"]},
          "legend": {"title": null, "orient": "none", "legendX": 35, "legendY": 13, "labelFontSize": 25, "labelColor": "#111"}},
        "shape": {"field": "s", "type": "nominal", "scale": {"domain": ["1717-1 G>A","G542X","homozygote","G551D","R553X","G551D, R553X","R560T"], "range": [
          "M-6.7,0H6.7M-5.5,-0.6h1.2v1.2h-1.2zM-0.6,-0.6h1.2v1.2h-1.2zM4.3,-0.6h1.2v1.2h-1.2z",
          "M-6.7,0H6.7M-5.5,0a0.6,0.6 0 1,0 1.2,0a0.6,0.6 0 1,0 -1.2,0zM-0.6,0a0.6,0.6 0 1,0 1.2,0a0.6,0.6 0 1,0 -1.2,0zM4.3,0a0.6,0.6 0 1,0 1.2,0a0.6,0.6 0 1,0 -1.2,0z",
          "M0,0",
          "M-6.7,0H6.7M-5.6,0a0.7,0.7 0 1,0 1.4,0a0.7,0.7 0 1,0 -1.4,0zM-0.7,0a0.7,0.7 0 1,0 1.4,0a0.7,0.7 0 1,0 -1.4,0zM4.2,0a0.7,0.7 0 1,0 1.4,0a0.7,0.7 0 1,0 -1.4,0z",
          "M-6.7,0H-5.5M-4.3,0H-0.6M0.6,0H4.3M5.5,0H6.7M-5.5,-0.6h1.2v1.2h-1.2zM-0.6,-0.6h1.2v1.2h-1.2zM4.3,-0.6h1.2v1.2h-1.2z",
          "M-6.7,0H6.7M-5.5,-0.7l1.2,1.4M-5.5,0.7l1.2,-1.4M-0.6,-0.7l1.2,1.4M-0.6,0.7l1.2,-1.4M4.3,-0.7l1.2,1.4M4.3,0.7l1.2,-1.4",
          "M-6.7,0h1.1M-4.7,0h1.1M-2.7,0h1.1M-0.7,0h1.1M1.3,0h1.1M3.3,0h1.1M5.3,0h1.1"
        ]},
          "legend": {"title": null, "orient": "none", "legendX": 35, "legendY": 13, "labelFontSize": 25, "labelColor": "#111"}}
      }
    }
  ]
}
